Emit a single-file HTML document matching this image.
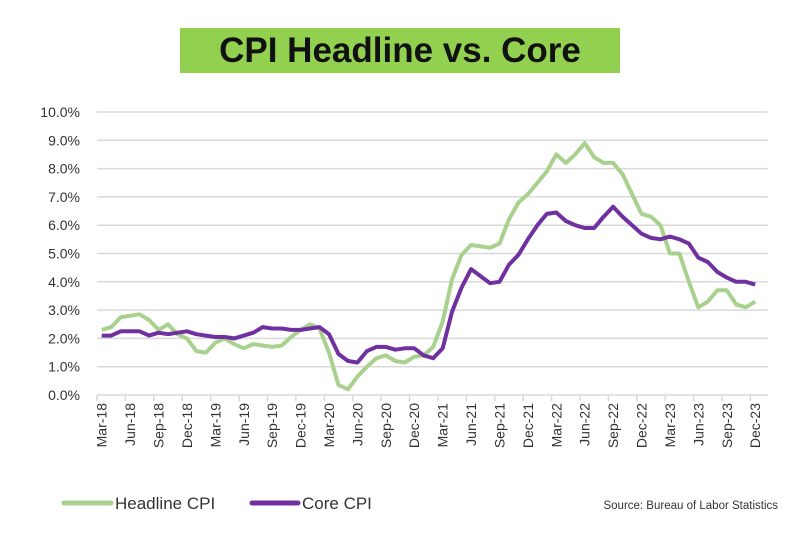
<!DOCTYPE html>
<html><head><meta charset="utf-8"><style>
body{margin:0;background:#fff;width:800px;height:533px;overflow:hidden;font-family:"Liberation Sans",sans-serif;}
</style></head><body>
<svg width="800" height="533" xmlns="http://www.w3.org/2000/svg">
<rect x="180" y="28" width="440" height="45" fill="#92d050"/>
<text x="400" y="62" text-anchor="middle" font-size="35" font-weight="bold" fill="#111">CPI Headline vs. Core</text>
<g id="grid"></g><g id="yl"></g><g id="xl"></g><g id="lines"></g>
<g>
<line x1="64" y1="503" x2="111" y2="503" stroke="#a9d18e" stroke-width="5" stroke-linecap="round"/>
<text x="115" y="509" font-size="17" fill="#333">Headline CPI</text>
<line x1="252" y1="503" x2="298" y2="503" stroke="#7030a0" stroke-width="5" stroke-linecap="round"/>
<text x="302" y="509" font-size="17" fill="#333">Core CPI</text>
</g>
<text x="778" y="509" text-anchor="end" font-size="11.5" fill="#333">Source: Bureau of Labor Statistics</text>
</svg>
<script>
const yTicks=[0,1,2,3,4,5,6,7,8,9,10];
const headline=[2.3,2.4,2.75,2.8,2.85,2.65,2.3,2.5,2.15,2.0,
1.55,1.5,1.85,2.0,1.8,1.65,1.8,1.75,1.7,1.75,2.05,2.3,
2.5,2.35,1.5,0.35,0.2,0.65,1.0,1.3,1.4,1.2,1.15,1.35,
1.4,1.7,2.6,4.1,4.95,5.3,5.25,5.2,5.35,6.2,6.8,7.1,
7.5,7.9,8.5,8.2,8.5,8.9,8.4,8.2,8.2,7.8,7.1,6.4,
6.3,6.0,5.0,5.0,4.0,3.1,3.3,3.7,3.7,3.2,3.1,3.3];
const core=[2.1,2.1,2.25,2.25,2.25,2.1,2.2,2.15,2.2,2.25,
2.15,2.1,2.05,2.05,2.0,2.1,2.2,2.4,2.35,2.35,2.3,2.3,
2.35,2.4,2.15,1.45,1.2,1.15,1.55,1.7,1.7,1.6,1.65,1.65,
1.4,1.3,1.65,2.95,3.8,4.45,4.2,3.95,4.0,4.6,4.95,5.5,
6.0,6.4,6.45,6.15,6.0,5.9,5.9,6.3,6.65,6.3,6.0,5.7,
5.55,5.5,5.6,5.5,5.35,4.85,4.7,4.35,4.15,4.0,4.0,3.9];
const months=["Jan","Feb","Mar","Apr","May","Jun","Jul","Aug","Sep","Oct","Nov","Dec"];
const NS="http://www.w3.org/2000/svg";
const x0=97,step=9.47,yb=395,pp=28.3;
const X=i=>x0+step*(i+0.5);
const Y=v=>yb-v*pp;
function mk(p,t,a){const e=document.createElementNS(NS,t);for(const k in a)e.setAttribute(k,a[k]);p.appendChild(e);return e;}
const grid=document.getElementById('grid'),yl=document.getElementById('yl'),xl=document.getElementById('xl'),lines=document.getElementById('lines');
const n=headline.length, xEnd=x0+step*n;
yTicks.forEach(v=>{
 const g=mk(grid,'line',{x1:x0,x2:xEnd+8,y1:Y(v),y2:Y(v),stroke:'#d9d9d9','stroke-width':1.5});
 
 
 const t=mk(yl,'text',{x:80,y:Y(v)+5,'text-anchor':'end','font-size':14,fill:'#333'});
 t.textContent=v.toFixed(1)+'%';
 
 
});
for(let i=0;i<=n;i+=3){
 const tk=mk(xl,'line',{x1:x0+step*i,x2:x0+step*i,y1:yb,y2:yb+6,stroke:'#d9d9d9','stroke-width':1.5});
 
 
 if(i<n){
  const m=(2+i)%12, yr=18+Math.floor((2+i)/12);
  const x=X(i)+5,y=403;
  const t=mk(xl,'text',{x:x,y:y,'text-anchor':'end','font-size':14,fill:'#333',transform:`rotate(-90 ${x} ${y})`});
  t.textContent=months[m]+'-'+yr;
  
  
 }
}
function series(d,color,name){
 const p=mk(lines,'polyline',{points:d.map((v,i)=>X(i).toFixed(1)+','+Y(v).toFixed(1)).join(' '),fill:'none',stroke:color,'stroke-width':4,'stroke-linejoin':'round'});
 
 
}
series(headline,'#a9d18e','headline-cpi-line');
series(core,'#7030a0','core-cpi-line');
</script>
</body></html>
